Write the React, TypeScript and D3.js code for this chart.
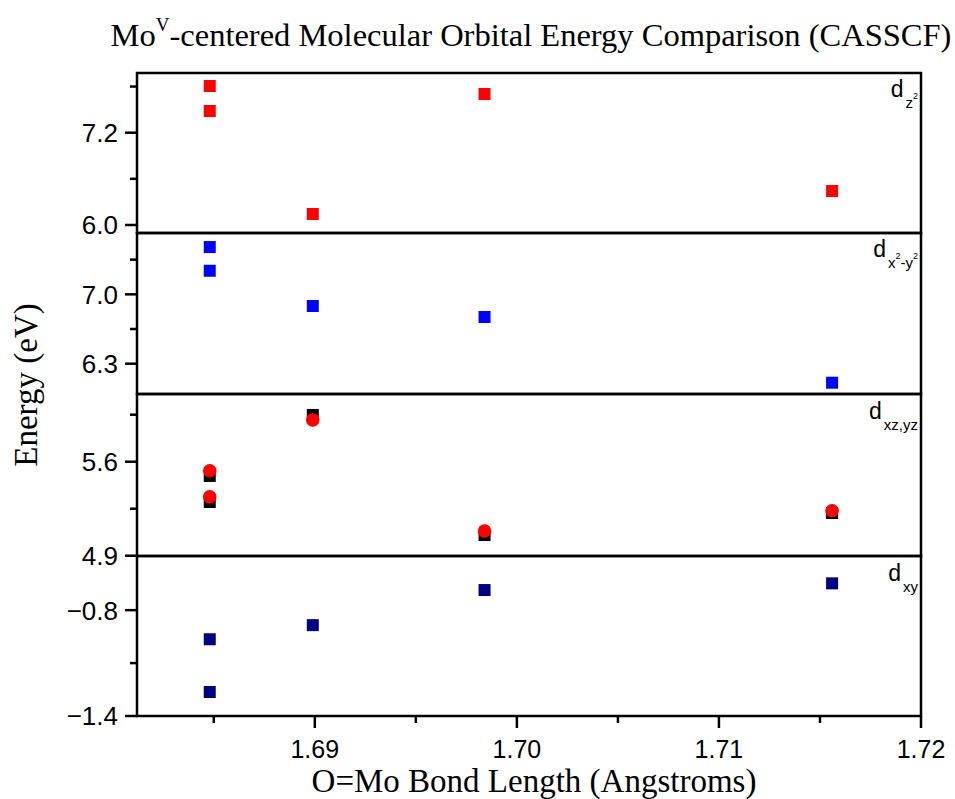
import React from "react";
import * as d3 from "d3";

// ---- data ----
const bondLength = [1.6848, 1.6848, 1.6899, 1.6984, 1.7156];
const dz2Energy = [7.807, 7.482, 6.143, 7.703, 6.442];
const dx2y2Energy = [7.477, 7.238, 6.882, 6.771, 6.108];
const dxzyzSquare = [5.494, 5.3, 5.948, 5.054, 5.218];
const dxzyzCircle = [5.533, 5.339, 5.911, 5.084, 5.235];
const dxyEnergy = [-0.965, -1.264, -0.885, -0.686, -0.648];

const xMajorTicks = [1.69, 1.7, 1.71, 1.72];
const xMinorTicks = [1.685, 1.695, 1.705, 1.715];

const panel1Domain = [5.896, 7.976];
const panel1Major = [6.0, 7.2];
const panel1Minor = [6.6, 7.8];
const panel2Domain = [5.994, 7.619];
const panel2Major = [6.3, 7.0];
const panel2Minor = [6.65, 7.35];
const panel3Domain = [4.898, 6.104];
const panel3Major = [4.9, 5.6];
const panel3Minor = [5.25, 5.95];
const panel4Domain = [-1.4, -0.493];
const panel4Major = [-1.4, -0.8];
const panel4Minor = [-1.1];

const W = 955;
const H = 799;
const left = 137;
const right = 921;
const panelEdges = [73, 233, 394, 556, 716];

const sans = "'Liberation Sans', Arial, sans-serif";
const serif = "'Liberation Serif', 'Times New Roman', serif";

type Series = { values: number[]; color: string; shape: "square" | "circle" };
type Panel = {
  domain: number[];
  major: number[];
  minor: number[];
  series: Series[];
  label: React.ReactNode;
  labelY: number;
};

const SUB = 15;
const SUP = 9;

export default function App() {
  const x = d3.scaleLinear().domain([1.6812, 1.72]).range([left, right]);
  const fmt = d3.format(".1f");

  const panels: Panel[] = [
    {
      domain: panel1Domain,
      major: panel1Major,
      minor: panel1Minor,
      series: [{ values: dz2Energy, color: "#ff0000", shape: "square" }],
      labelY: 97,
      label: (
        <>
          d
          <tspan fontSize={SUB} dx={2} dy={11}>z</tspan>
          <tspan fontSize={SUP} dy={-9}>2</tspan>
        </>
      ),
    },
    {
      domain: panel2Domain,
      major: panel2Major,
      minor: panel2Minor,
      series: [{ values: dx2y2Energy, color: "#0000ff", shape: "square" }],
      labelY: 257,
      label: (
        <>
          d
          <tspan fontSize={SUB} dx={2} dy={11}>x</tspan>
          <tspan fontSize={SUP} dy={-9}>2</tspan>
          <tspan fontSize={SUB} dy={9}>-y</tspan>
          <tspan fontSize={SUP} dy={-9}>2</tspan>
        </>
      ),
    },
    {
      domain: panel3Domain,
      major: panel3Major,
      minor: panel3Minor,
      series: [
        { values: dxzyzSquare, color: "#000000", shape: "square" },
        { values: dxzyzCircle, color: "#ff0000", shape: "circle" },
      ],
      labelY: 419,
      label: (
        <>
          d
          <tspan fontSize={SUB} dx={2} dy={11}>xz,yz</tspan>
        </>
      ),
    },
    {
      domain: panel4Domain,
      major: panel4Major,
      minor: panel4Minor,
      series: [{ values: dxyEnergy, color: "#000080", shape: "square" }],
      labelY: 581,
      label: (
        <>
          d
          <tspan fontSize={SUB} dx={2} dy={11}>xy</tspan>
        </>
      ),
    },
  ];

  const sq = 12;

  return (
    <svg
      width={W}
      height={H}
      style={{ position: "absolute", left: 0, top: 0, background: "#fff" }}
    >
      <rect x={0} y={0} width={W} height={H} fill="#fff" />
      {/* title */}
      <text x={531} y={46} textAnchor="middle" fontFamily={serif} fontSize={32.5} fill="#000">
        Mo
        <tspan fontSize={19} dy={-15}>V</tspan>
        <tspan dy={15}>-centered Molecular Orbital Energy Comparison (CASSCF)</tspan>
      </text>

      {panels.map((p, i) => {
        const top = panelEdges[i];
        const bottom = panelEdges[i + 1];
        const y = d3.scaleLinear().domain(p.domain).range([bottom, top]);
        return (
          <g key={i}>
            {p.series.map((s, si) => (
              <g key={si}>
                {s.values.map((v, k) =>
                  s.shape === "square" ? (
                    <rect
                      key={k}
                      x={x(bondLength[k]) - sq / 2}
                      y={y(v) - sq / 2}
                      width={sq}
                      height={sq}
                      fill={s.color}
                    />
                  ) : (
                    <circle key={k} cx={x(bondLength[k])} cy={y(v)} r={6.8} fill={s.color} />
                  )
                )}
              </g>
            ))}
            <rect
              x={left}
              y={top}
              width={right - left}
              height={bottom - top}
              fill="none"
              stroke="#000"
              strokeWidth={2.5}
            />
            {p.major.map((t) => (
              <g key={"M" + t}>
                <line x1={left - 12} x2={left} y1={y(t)} y2={y(t)} stroke="#000" strokeWidth={2.5} />
                <text
                  x={left - 19}
                  y={y(t)}
                  dy="0.36em"
                  textAnchor="end"
                  fontFamily={sans}
                  fontSize={26}
                  fill="#000"
                >
                  {fmt(t)}
                </text>
              </g>
            ))}
            {p.minor.map((t) => (
              <line key={"m" + t} x1={left - 7} x2={left} y1={y(t)} y2={y(t)} stroke="#000" strokeWidth={2.5} />
            ))}
            <text
              x={918}
              y={p.labelY}
              textAnchor="end"
              fontFamily={sans}
              fontSize={23}
              fill="#000"
            >
              {p.label}
            </text>
          </g>
        );
      })}

      {/* x axis */}
      {xMajorTicks.map((t) => (
        <g key={"x" + t}>
          <line x1={x(t)} x2={x(t)} y1={716} y2={728} stroke="#000" strokeWidth={2.5} />
          <text x={x(t)} y={758} textAnchor="middle" fontFamily={sans} fontSize={25} fill="#000">
            {d3.format(".2f")(t)}
          </text>
        </g>
      ))}
      {xMinorTicks.map((t) => (
        <line key={"xm" + t} x1={x(t)} x2={x(t)} y1={716} y2={723} stroke="#000" strokeWidth={2.5} />
      ))}
      <text x={534} y={792} textAnchor="middle" fontFamily={serif} fontSize={33} fill="#000">
        O=Mo Bond Length (Angstroms)
      </text>
      <text
        transform="translate(37,385) rotate(-90)"
        textAnchor="middle"
        fontFamily={serif}
        fontSize={33}
        fill="#000"
      >
        Energy (eV)
      </text>
    </svg>
  );
}
